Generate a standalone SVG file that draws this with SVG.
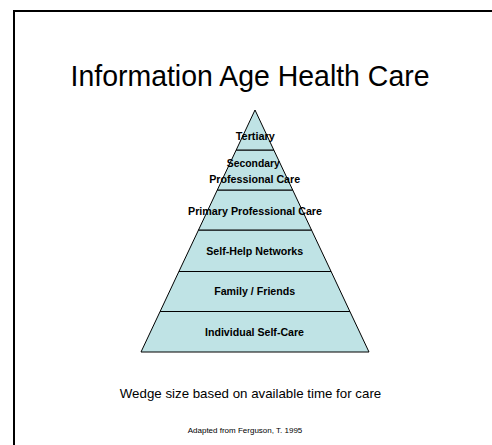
<svg xmlns="http://www.w3.org/2000/svg" width="492" height="445" viewBox="0 0 492 445">
<style>
.layer{fill:#bfe3e5;stroke:#000;stroke-width:1}
.lbl{font-family:"Liberation Sans",Arial,sans-serif;font-weight:bold;font-size:11.5px;text-anchor:middle;fill:#000}
.title{font-family:"Liberation Sans",Arial,sans-serif;font-size:30px;text-anchor:middle;fill:#000}
.note{font-family:"Liberation Sans",Arial,sans-serif;text-anchor:middle;fill:#000}
</style>
<rect x="0" y="0" width="492" height="445" fill="#fff"/>
<rect x="14" y="11" width="500" height="460" fill="none" stroke="#000" stroke-width="2"/>
<text class="title" x="250" y="86" textLength="359" lengthAdjust="spacingAndGlyphs">Information Age Health Care</text>
<g id="individual"><polygon class="layer" points="160.1,311.5 349.9,311.5 369,352 141,352"/><text class="lbl" x="254.5" y="336" textLength="99" lengthAdjust="spacingAndGlyphs">Individual Self-Care</text></g>
<g id="family"><polygon class="layer" points="178.9,271.5 331.1,271.5 349.9,311.5 160.1,311.5"/><text class="lbl" x="254.7" y="295" textLength="81" lengthAdjust="spacingAndGlyphs">Family / Friends</text></g>
<g id="selfhelp"><polygon class="layer" points="198.5,230 311.5,230 331.1,271.5 178.9,271.5"/><text class="lbl" x="254.7" y="255" textLength="97" lengthAdjust="spacingAndGlyphs">Self-Help Networks</text></g>
<g id="primary"><polygon class="layer" points="217.3,190 292.7,190 311.5,230 198.5,230"/><text class="lbl" x="255" y="215" textLength="134" lengthAdjust="spacingAndGlyphs">Primary Professional Care</text></g>
<g id="secondary"><polygon class="layer" points="236.2,150 273.8,150 292.7,190 217.3,190"/><text class="lbl" x="253.3" y="167" textLength="53" lengthAdjust="spacingAndGlyphs">Secondary</text><text class="lbl" x="254.7" y="183" textLength="91" lengthAdjust="spacingAndGlyphs">Professional Care</text></g>
<g id="tertiary"><polygon class="layer" points="255,110 273.8,150 236.2,150"/><text class="lbl" x="255.3" y="140" textLength="39" lengthAdjust="spacingAndGlyphs">Tertiary</text></g>
<text class="note" x="250.5" y="398" font-size="13.3">Wedge size based on available time for care</text>
<text class="note" x="245" y="433" font-size="8">Adapted from Ferguson, T. 1995</text>
</svg>
